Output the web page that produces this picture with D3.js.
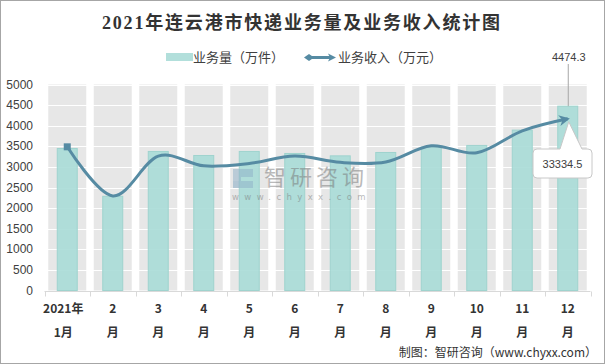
<!DOCTYPE html>
<html><head><meta charset="utf-8">
<script src="https://cdn.jsdelivr.net/npm/d3@7"></script>
<style>body{margin:0;background:#fff}svg{display:block}</style>
</head><body>
<script>
const months = ["1","2","3","4","5","6","7","8","9","10","11","12"];
const tickTop = ["2021年","2","3","4","5","6","7","8","9","10","11","12"];
const tickBottom = ["1月","月","月","月","月","月","月","月","月","月","月","月"];
const volume = [3447, 2287, 3375, 3277, 3375, 3326, 3268, 3350, 3479, 3521, 3893, 4474.3];
const revenue = [27900, 18360, 26080, 24200, 24660, 26100, 24880, 24960, 28100, 26730, 31000, 33334.5];
const yTicks = [0,500,1000,1500,2000,2500,3000,3500,4000,4500,5000];

const W=605,H=364;
const svg=d3.select("body").append("svg").attr("width",W).attr("height",H);
svg.append("rect").attr("x",0.5).attr("y",0.5).attr("width",W-1).attr("height",H-1).attr("fill","#fff").attr("stroke","#a6a6a6");

const x=d3.scaleBand().domain(months).range([44.5,590.5]);
const y=d3.scaleLinear().domain([0,5000]).range([290.5,84.5]);
const y2=d3.scaleLinear().domain([0,40000]).range([290.5,84.5]);

// title
svg.append("text").attr("x",301).attr("y",29).attr("text-anchor","middle")
  .attr("font-family","'Liberation Serif','Noto Sans CJK SC',serif").attr("font-weight","bold")
  .attr("font-size",18).attr("fill","#333").attr("textLength",398).attr("lengthAdjust","spacing")
  .text("2021年连云港市快递业务量及业务收入统计图");

// legend
const lg=svg.append("g").attr("font-family","'Noto Sans CJK SC',sans-serif").attr("font-size",13).attr("fill","#404040");
lg.append("rect").attr("x",166).attr("y",53).attr("width",27).attr("height",8).attr("fill","#b2dfdb");
lg.append("text").attr("x",193).attr("y",62).text("业务量（万件）");
lg.append("line").attr("x1",309).attr("x2",332).attr("y1",57.5).attr("y2",57.5).attr("stroke","#568ba3").attr("stroke-width",3);
lg.append("path").attr("d","M304,57.5 L309,54 L314,57.5 L309,61Z").attr("fill","#568ba3");
lg.append("path").attr("d","M336,57.5 L328,53.5 L330,57.5 L328,61.5Z").attr("fill","#568ba3");
lg.append("text").attr("x",338).attr("y",62).text("业务收入（万元）");

// plot background columns
const colW=38;
svg.append("g").selectAll("rect").data(months).join("rect")
  .attr("x",d=>x(d)+x.bandwidth()/2-colW/2).attr("width",colW)
  .attr("y",y(5000)).attr("height",y(0)-y(5000)).attr("fill","#e7e7e7");
// white gridlines
svg.append("g").selectAll("line").data(yTicks.slice(1)).join("line")
  .attr("x1",44.5).attr("x2",590.5).attr("y1",d=>Math.round(y(d))+0.5).attr("y2",d=>Math.round(y(d))+0.5)
  .attr("stroke","#fff").attr("stroke-width",1.2);

// y labels
svg.append("g").selectAll("text").data(yTicks).join("text")
  .attr("x",33).attr("y",d=>y(d)+4).attr("text-anchor","end")
  .attr("font-family","'Liberation Sans',Arial,sans-serif").attr("font-size",12).attr("fill","#404040")
  .text(d=>d);

// bars
svg.append("g").selectAll("rect").data(volume).join("rect")
  .attr("x",(d,i)=>x(months[i])+x.bandwidth()/2-10).attr("width",20)
  .attr("y",d=>y(d)).attr("height",d=>y(0)-y(d))
  .attr("fill","#a9dcd7").attr("fill-opacity",0.9).attr("stroke","#9fd3ce").attr("stroke-width",1);

// watermark
const wm=svg.append("g").attr("opacity",0.5);
wm.append("path").attr("d","M233,169 h20 v8 h-12 v4 h12 v7 h-20Z").attr("fill","#8fb0c8");
wm.append("rect").attr("x",233).attr("y",181).attr("width",6).attr("height",7).attr("fill","#7ea6c2");
wm.append("text").attr("x",264).attr("y",185).attr("font-family","'Noto Sans CJK SC',sans-serif").attr("font-size",22)
  .attr("fill","#777").attr("letter-spacing",4).text("智研咨询");
wm.append("text").attr("x",232).attr("y",200).attr("font-family","'DejaVu Sans',sans-serif").attr("font-size",8.5)
  .attr("fill","#777").attr("letter-spacing",5.4).text("www.chyxx.com");

// axis
const ax=svg.append("g");
ax.append("line").attr("x1",44.5).attr("x2",590.5).attr("y1",291.5).attr("y2",291.5).attr("stroke","#d9d9d9");
ax.selectAll(".tk").data(d3.range(13)).join("line").attr("class","tk")
  .attr("x1",i=>Math.round(44.5+i*x.bandwidth())+0.5).attr("x2",i=>Math.round(44.5+i*x.bandwidth())+0.5)
  .attr("y1",291.5).attr("y2",296.5).attr("stroke","#d9d9d9");
const lab=svg.append("g").attr("font-family","'Noto Sans CJK SC',sans-serif").attr("font-weight","bold").attr("font-size",12).attr("fill","#333").attr("text-anchor","middle");
lab.selectAll(".t1").data(tickTop).join("text").attr("class","t1")
  .attr("x",(d,i)=>x(months[i])+x.bandwidth()/2+ (i===0?-4:0)).attr("y",313).text(d=>d);
lab.selectAll(".t2").data(tickBottom).join("text").attr("class","t2")
  .attr("x",(d,i)=>x(months[i])+x.bandwidth()/2+(i===0?-4:0)).attr("y",337).text(d=>d);

// line
const defs=svg.append("defs");
defs.append("marker").attr("id","arr").attr("viewBox","0 0 10 10").attr("refX",8).attr("refY",5)
  .attr("markerWidth",3.6).attr("markerHeight",3.6).attr("orient","auto").attr("markerUnits","strokeWidth")
  .append("path").attr("d","M0,0 L10,5 L0,10 L3,5Z").attr("fill","#568ba3");
const pts=revenue.map((v,i)=>[x(months[i])+x.bandwidth()/2,y2(v)]);
svg.append("path").attr("d",d3.line().curve(d3.curveCardinal.tension(0))(pts))
  .attr("fill","none").attr("stroke","#568ba3").attr("stroke-width",3).attr("marker-end","url(#arr)");
svg.append("rect").attr("x",pts[0][0]-3.5).attr("y",pts[0][1]-3.5).attr("width",7).attr("height",7).attr("fill","#568ba3");

// annotations
const lastX=x(months[11])+x.bandwidth()/2, lastBarY=y(volume[11]);
svg.append("line").attr("x1",lastX+0.5).attr("x2",lastX+0.5).attr("y1",64).attr("y2",lastBarY).attr("stroke","#a6a6a6");
svg.append("text").attr("x",lastX+1).attr("y",61).attr("text-anchor","middle")
  .attr("font-family","'Liberation Sans',Arial,sans-serif").attr("font-size",11).attr("fill","#404040").text(volume[11]);
const p=pts[11];
const bx=533,by=149,bw=59,bh=29,r=4;
svg.append("path").attr("d",`M${bx+r},${by} L${bx+27},${by} L${p[0]+1},${p[1]+3} L${bx+49},${by} L${bx+bw-r},${by} Q${bx+bw},${by} ${bx+bw},${by+r} L${bx+bw},${by+bh-r} Q${bx+bw},${by+bh} ${bx+bw-r},${by+bh} L${bx+r},${by+bh} Q${bx},${by+bh} ${bx},${by+bh-r} L${bx},${by+r} Q${bx},${by} ${bx+r},${by}Z`)
  .attr("fill","#fff").attr("stroke","#c8c8c8");
svg.append("text").attr("x",bx+bw/2).attr("y",by+19).attr("text-anchor","middle")
  .attr("font-family","'Liberation Sans',Arial,sans-serif").attr("font-size",11).attr("fill","#404040").text(revenue[11]);

// source
svg.append("text").attr("x",597).attr("y",357).attr("text-anchor","end")
  .attr("font-family","'Noto Sans CJK SC',sans-serif").attr("font-size",12).attr("fill","#333").text("制图：智研咨询（www.chyxx.com）");
</script>
</body></html>
